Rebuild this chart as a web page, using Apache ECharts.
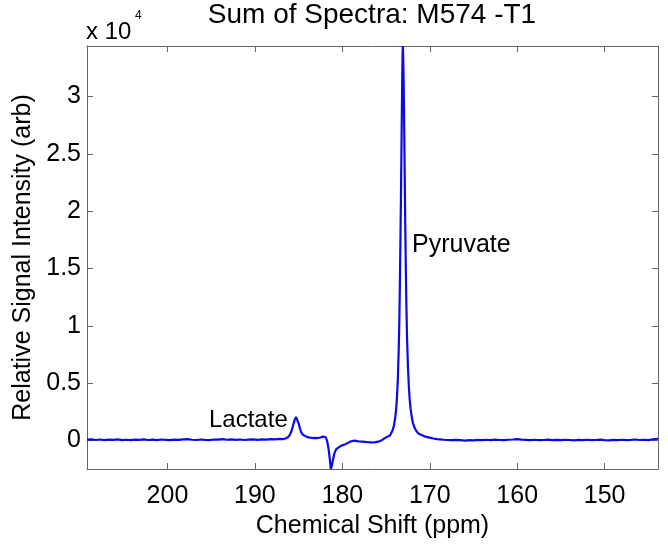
<!DOCTYPE html>
<html><head><meta charset="utf-8">
<script src="https://cdn.jsdelivr.net/npm/echarts@6/dist/echarts.min.js"></script>
<style>html,body{margin:0;padding:0;background:#fff}#c{width:668px;height:544px}</style>
</head><body><div id="c"></div>
<script>
// Chemical shift (ppm) and summed intensity (x 10^4)
const ppm = [
209.2,208.7,208.2,207.7,207.2,206.7,206.2,205.7,205.2,204.7,204.2,203.7,203.2,202.7,202.2,201.7,201.2,200.7,200.2,199.7,
199.2,198.7,198.2,197.7,197.2,196.7,196.2,195.7,195.2,194.7,194.2,193.7,193.2,192.7,192.2,191.7,191.2,190.7,190.2,189.7,
189.2,188.7,188.2,187.7,187.2,186.8,186.5,186.2,186.0,185.8,185.6,185.45,185.3,185.15,185.0,184.85,184.7,184.5,184.3,184.0,
183.7,183.4,183.1,182.8,182.5,182.25,182.05,181.9,181.75,181.6,181.45,181.32,181.2,181.05,180.9,180.7,180.5,180.2,179.9,179.6,
179.3,179.0,178.8,178.6,178.3,178.0,177.7,177.4,177.1,176.8,176.5,176.2,175.9,175.6,175.35,175.15,174.95,174.75,174.55,174.4,
174.25,174.1,173.95,173.85,173.75,173.65,173.55,173.48,173.42,173.36,173.3,173.25,173.2,173.15,173.11,173.08,173.05,173.0,172.95,172.9,
172.85,172.8,172.74,172.68,172.6,172.5,172.4,172.3,172.2,172.05,171.9,171.7,171.5,171.3,171.0,170.7,170.4,170.0,169.6,169.2,
168.8,168.4,168.0,167.5,167.0,166.5,166.0,165.5,165.0,164.5,164.0,163.5,163.0,162.5,162.0,161.5,161.0,160.5,160.0,159.5,
159.0,158.5,158.0,157.5,157.0,156.5,156.0,155.5,155.0,154.5,154.0,153.5,153.0,152.5,152.0,151.5,151.0,150.5,150.0,149.5,
149.0,148.5,148.0,147.5,147.0,146.5,146.0,145.5,145.0,144.5,143.9
];
const intensity = [
0.008,0.010,0.005,0.009,0.004,0.008,0.006,0.011,0.004,0.007,0.003,0.008,0.006,0.010,0.005,0.008,0.004,0.009,0.006,0.003,
0.008,0.006,0.010,0.012,0.007,0.005,0.009,0.006,0.004,0.009,0.008,0.012,0.007,0.010,0.006,0.009,0.005,0.008,0.010,0.006,
0.011,0.008,0.012,0.010,0.014,0.013,0.018,0.030,0.050,0.085,0.140,0.180,0.205,0.190,0.150,0.105,0.072,0.050,0.038,0.030,
0.025,0.022,0.024,0.022,0.027,0.034,0.040,0.030,0.000,-0.060,-0.150,-0.248,-0.220,-0.160,-0.110,-0.075,-0.060,-0.048,-0.038,-0.030,
-0.018,-0.006,0.003,0.000,-0.005,-0.008,-0.010,-0.012,-0.015,-0.016,-0.017,-0.014,-0.010,-0.002,0.010,0.025,0.030,0.032,0.045,0.060,
0.090,0.130,0.200,0.270,0.380,0.540,0.800,1.050,1.350,1.720,2.100,2.450,2.820,3.150,3.360,3.440,3.380,3.180,2.900,2.550,
2.200,1.850,1.500,1.200,0.900,0.650,0.480,0.360,0.280,0.200,0.145,0.105,0.080,0.062,0.050,0.040,0.032,0.025,0.018,0.013,
0.010,0.007,0.005,0.004,0.006,0.003,0.000,0.004,0.002,0.006,0.003,0.007,0.004,0.008,0.005,0.003,0.007,0.009,0.012,0.008,
0.006,0.004,0.007,0.003,0.005,0.008,0.004,0.006,0.003,0.007,0.005,0.002,0.006,0.004,0.007,0.003,0.005,0.008,0.004,0.002,
0.006,0.003,0.007,0.004,0.006,0.009,0.005,0.007,0.004,0.010,0.016
];
const xTicks = [200, 190, 180, 170, 160, 150];
const yTicks = [0, 0.5, 1, 1.5, 2, 2.5, 3];
const titleText = 'Sum of Spectra: M574 -T1';
const xName = 'Chemical Shift (ppm)';
const yName = 'Relative Signal Intensity (arb)';
const peakNames = ['Lactate', 'Pyruvate'];
const scaleText = ['x 10', '4'];

const FONT = 'Liberation Sans, Arial, Helvetica, sans-serif';
const FS = 25;
const axisCol = '#666';
const chart = echarts.init(document.getElementById('c'), null, {renderer: 'canvas'});
const xBase = {
  type: 'value', min: 143.9, max: 209.2, inverse: true,
  splitLine: {show: false},
  axisLine: {show: true, onZero: false, lineStyle: {color: axisCol, width: 1}},
  axisTick: {show: true, inside: true, length: 6, customValues: xTicks, lineStyle: {color: axisCol}},
};
const yBase = {
  type: 'value', min: -0.248, max: 3.44,
  splitLine: {show: false},
  axisLine: {show: true, onZero: false, lineStyle: {color: axisCol, width: 1}},
  axisTick: {show: true, inside: true, length: 6, customValues: yTicks, lineStyle: {color: axisCol}},
};
chart.setOption({
  backgroundColor: '#fff',
  animation: false,
  grid: {left: 87, right: 10, top: 46, bottom: 75, containLabel: false},
  xAxis: [
    Object.assign({}, xBase, {position: 'bottom',
      axisLabel: {customValues: xTicks, fontFamily: FONT, fontSize: FS, color: '#000', margin: 15},
      name: xName, nameLocation: 'middle', nameGap: 45,
      nameTextStyle: {fontFamily: FONT, fontSize: FS, color: '#000'}}),
    Object.assign({}, xBase, {position: 'top', axisLabel: {show: false}})
  ],
  yAxis: [
    Object.assign({}, yBase, {position: 'left',
      axisLabel: {customValues: yTicks, fontFamily: FONT, fontSize: FS, color: '#000', margin: 6,
        formatter: v => String(v)},
      name: yName, nameLocation: 'middle', nameGap: 39, nameRotate: 90,
      nameTextStyle: {fontFamily: FONT, fontSize: FS, color: '#000'}}),
    Object.assign({}, yBase, {position: 'right', axisLabel: {show: false}})
  ],
  graphic: [
    {type: 'text', x: 372, y: 15, style: {text: titleText, fontFamily: FONT, fontSize: 28,
      fill: '#000', align: 'center', verticalAlign: 'middle'}},
    {type: 'text', x: 86, y: 32, style: {text: scaleText[0], fontFamily: FONT, fontSize: 24,
      fill: '#000', align: 'left', verticalAlign: 'middle'}},
    {type: 'text', x: 135, y: 16, style: {text: scaleText[1], fontFamily: FONT, fontSize: 12,
      fill: '#000', align: 'left', verticalAlign: 'middle'}},
    {type: 'text', x: 209, y: 420, style: {text: peakNames[0], fontFamily: FONT, fontSize: 24,
      fill: '#000', align: 'left', verticalAlign: 'middle'}},
    {type: 'text', x: 412, y: 245, style: {text: peakNames[1], fontFamily: FONT, fontSize: 25,
      fill: '#000', align: 'left', verticalAlign: 'middle'}}
  ],
  series: [{
    type: 'line', xAxisIndex: 0, yAxisIndex: 0,
    data: ppm.map((p, i) => [p, intensity[i]]),
    showSymbol: false, symbol: 'none', clip: true,
    lineStyle: {color: '#0a0ae6', width: 2.2},
    itemStyle: {color: '#0a0ae6'}
  }]
});
</script></body></html>
